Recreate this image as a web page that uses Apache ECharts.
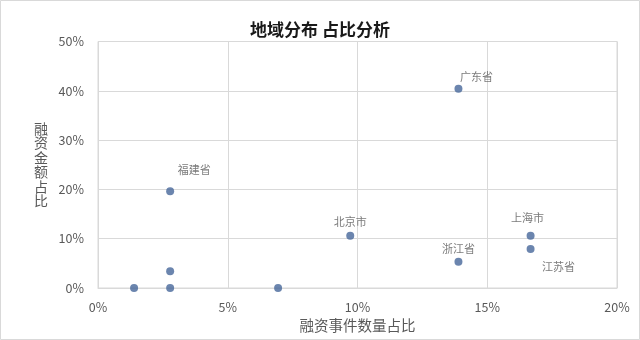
<!DOCTYPE html>
<html>
<head>
<meta charset="utf-8">
<script src="https://cdn.jsdelivr.net/npm/echarts@6/dist/echarts.min.js"></script>
<style>
html,body{margin:0;padding:0;background:#fff;}
#c{width:640px;height:340px;}
</style>
</head>
<body>
<div id="c"></div>
<script>
// Data
const regions = ['广东省', '福建省', '北京市', '上海市', '江苏省', '浙江省', '', '', '', ''];
const eventShare = [13.89, 2.78, 9.72, 16.67, 16.67, 13.89, 2.78, 2.78, 1.39, 6.94];
const amountShare = [40.4, 19.6, 10.6, 10.6, 7.9, 5.3, 3.4, 0, 0, 0];
const xTicks = [0, 5, 10, 15, 20];
const yTicks = [0, 10, 20, 30, 40, 50];

// Label placement (style, not data)
const labelOffsets = {
  '广东省': [18, -12],
  '福建省': [24, -22],
  '北京市': [0, -14],
  '上海市': [-3, -18],
  '江苏省': [28, 18],
  '浙江省': [0, -13]
};

const font = '"Noto Sans CJK SC", "Microsoft YaHei", sans-serif';
const txt = '#595959';
const line = '#d9d9d9';

const seriesData = regions.map((n, i) => {
  const item = { name: n, value: [eventShare[i], amountShare[i]] };
  if (n) {
    item.label = { show: true, position: 'inside', offset: labelOffsets[n] || [0, -14] };
  }
  return item;
});

const chart = echarts.init(document.getElementById('c'));
chart.setOption({
  animation: false,
  backgroundColor: '#fff',
  textStyle: { fontFamily: font },
  title: {
    text: '地域分布 占比分析',
    left: 'center',
    top: 16,
    textStyle: { fontSize: 17, fontWeight: 'bold', color: '#1a1a1a', fontFamily: font }
  },
  graphic: [{
    type: 'rect',
    shape: { x: 0.5, y: 0.5, width: 639, height: 339 },
    style: { fill: 'none', stroke: '#d9d9d9', lineWidth: 1 },
    silent: true
  }],
  grid: { left: 98, right: 23, top: 41.5, bottom: 52, show: true, borderColor: line, borderWidth: 1 },
  xAxis: {
    type: 'value',
    min: xTicks[0], max: xTicks[xTicks.length - 1], interval: xTicks[1] - xTicks[0],
    name: '融资事件数量占比',
    nameLocation: 'middle',
    nameGap: 29,
    nameTextStyle: { fontSize: 14.5, color: txt, fontFamily: font },
    axisLine: { show: true, lineStyle: { color: line } },
    axisTick: { show: false },
    axisLabel: { formatter: '{value}%', fontSize: 12.5, color: txt, margin: 13, fontFamily: font },
    splitLine: { show: true, lineStyle: { color: line } }
  },
  yAxis: {
    type: 'value',
    min: yTicks[0], max: yTicks[yTicks.length - 1], interval: yTicks[1] - yTicks[0],
    name: '融\n资\n金\n额\n占\n比',
    nameLocation: 'middle',
    nameRotate: 0,
    nameGap: 50,
    nameTextStyle: { fontSize: 14, color: txt, lineHeight: 14.5, fontFamily: font },
    axisLine: { show: false },
    axisTick: { show: false },
    axisLabel: { formatter: '{value}%', fontSize: 12.5, color: txt, margin: 14, fontFamily: font },
    splitLine: { show: true, lineStyle: { color: line } }
  },
  series: [{
    type: 'scatter',
    symbolSize: 8,
    itemStyle: { color: '#46669a' },
    label: {
      show: false,
      formatter: '{b}',
      fontSize: 11,
      color: txt,
      fontFamily: font,
      align: 'center',
      verticalAlign: 'middle'
    },
    data: seriesData
  }]
});
</script>
</body>
</html>
